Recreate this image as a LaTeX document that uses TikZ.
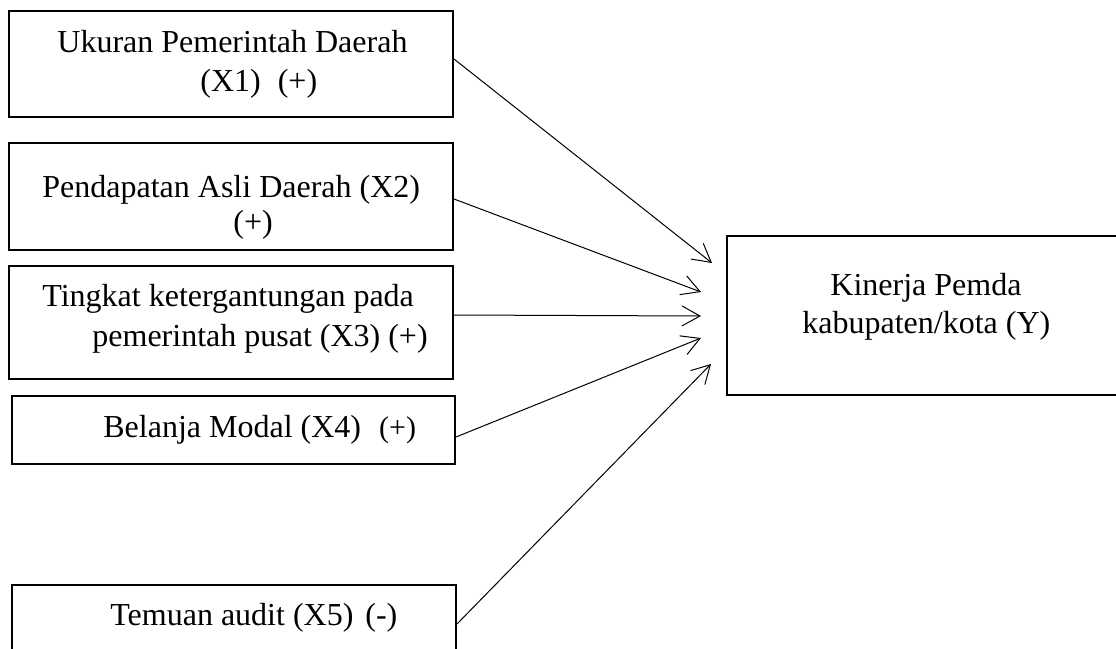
\documentclass[tikz,border=0pt]{standalone}
\usepackage{fontspec}
\setmainfont{Liberation Serif}
\usetikzlibrary{arrows.meta}
\begin{document}
\begin{tikzpicture}[x=0.5pt,y=-0.5pt,
  box/.style={draw,line width=1pt,inner sep=0pt,anchor=north west},
  txt/.style={anchor=base west,inner sep=0pt,font=\fontsize{16pt}{19pt}\selectfont},
  arr/.style={line width=0.5pt,-{Straight Barb[length=9pt,width=10pt,line width=0.5pt]}}]
\useasboundingbox (0,0) rectangle (1116,649);
\clip (0,0) rectangle (1116,649);
% boxes
\node[box,minimum width=222pt,minimum height=53pt] (b1) at (8,10) {};
\node[box,minimum width=222pt,minimum height=53.5pt] (b2) at (8,142) {};
\node[box,minimum width=222pt,minimum height=56.5pt] (b3) at (8,265) {};
\node[box,minimum width=221.5pt,minimum height=34pt] (b4) at (11,395) {};
\node[box,minimum width=222pt,minimum height=40pt] (b5) at (11,584) {};
\node[box,minimum width=200pt,minimum height=79.5pt] (y) at (726,235) {};
% texts
\node[txt] (t1a) at (57,52) {Ukuran Pemerintah Daerah};
\node[txt] (t1b) at (200,91) {(X1)\hspace{8.5pt}(+)};
\node[txt] (t2a) at (42,197) {Pendapatan Asli Daerah (X2)};
\node[txt] (t2b) at (233,232) {(+)};
\node[txt] (t3a) at (42,306) {Tingkat ketergantungan pada};
\node[txt] (t3b) at (92,346) {pemerintah pusat (X3) (+)};
\node[txt] (t4) at (103,437) {Belanja Modal (X4)\hspace{9pt}{\fontsize{15pt}{17pt}\selectfont(+)}};
\node[txt] (t5) at (110,625) {Temuan audit (X5)\hspace{6pt}(-)};
\node[txt] (ya) at (830,295) {Kinerja Pemda};
\node[txt] (yb) at (802,333) {kabupaten/kota (Y)};
% arrow tips
\coordinate (e1) at (712,263);
\coordinate (e2) at (701,292);
\coordinate (e3) at (701,316);
\coordinate (e4) at (701,338);
\coordinate (e5) at (711,364);
\draw[arr] (b1.east) ++(0,-5) -- (e1);
\draw[arr] (b2.east) ++(0,2.5) -- (e2);
\draw[arr] (b3.east) ++(0,-7.5) -- (e3);
\draw[arr] (b4.east) ++(0,7) -- (e4);
\draw[arr] (b5.east) ++(0,-1) -- (e5);
\end{tikzpicture}
\end{document}
